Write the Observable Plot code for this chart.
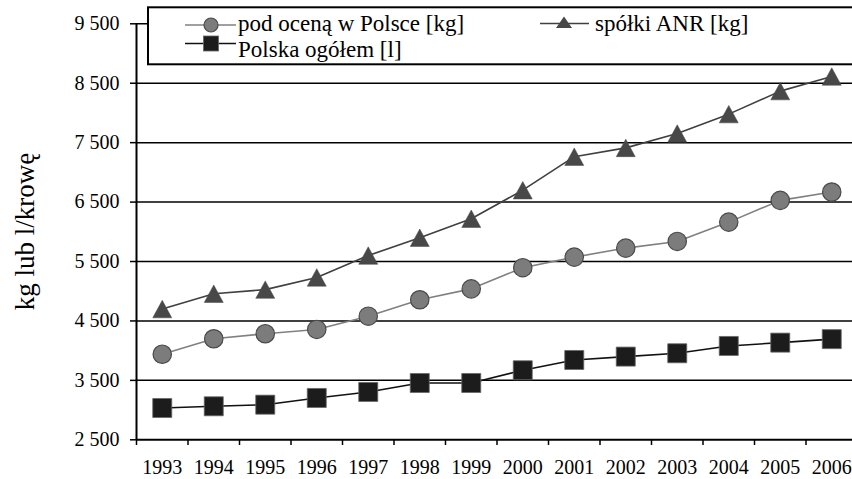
<!DOCTYPE html>
<html><head><meta charset="utf-8">
<script src="https://cdn.jsdelivr.net/npm/d3@7"></script>
<script src="https://cdn.jsdelivr.net/npm/@observablehq/plot@0.6"></script>
<style>
html,body{margin:0;padding:0;background:#fff;overflow:hidden;}
#wrap{position:relative;width:852px;height:479px;overflow:hidden;}
#wrap svg, #wrap svg text{font-family:'Liberation Serif','Times New Roman',serif !important;}
#legend{position:absolute;left:0;top:0;pointer-events:none;}
</style></head><body><div id="wrap"></div>
<script>
const years = [1993,1994,1995,1996,1997,1998,1999,2000,2001,2002,2003,2004,2005,2006];
const podOcena = [3940,4200,4285,4357,4580,4857,5040,5396,5574,5726,5838,6163,6529,6669];
const spolkiANR = [4700,4958,5027,5232,5600,5900,6220,6700,7264,7412,7653,7980,8367,8613];
const polskaOgolem = [3035,3064,3091,3204,3305,3456,3456,3670,3843,3900,3956,4079,4135,4194];
const seriesNames = ["pod oceną w Polsce [kg]", "spółki ANR [kg]", "Polska ogółem [l]"];
const yTicks = [2500,3500,4500,5500,6500,7500,8500,9500];
const yLabel = "kg lub l/krowę";

const FONT = "'Liberation Serif', 'Times New Roman', serif";
const fmt = d => d3.format(",")(d).replace(/,/g, " ");
const boundaries = years.map(y => y - 0.5).concat([years[years.length-1] + 0.5]);

const rows = s => years.map((y, i) => ({year: y, value: s[i]}));
const dPod = rows(podOcena), dAnr = rows(spolkiANR), dPol = rows(polskaOgolem);

const triangle = {draw(ctx, size){ const r = Math.sqrt(size/Math.PI); const h = 1.84*r;
  ctx.moveTo(0, -h/2); ctx.lineTo(r, h/2); ctx.lineTo(-r, h/2); ctx.closePath(); }};
const square = {draw(ctx, size){ const r = Math.sqrt(size/Math.PI);
  ctx.moveTo(-r,-r); ctx.lineTo(r,-r); ctx.lineTo(r,r); ctx.lineTo(-r,r); ctx.closePath(); }};

const chart = Plot.plot({
  width: 852, height: 479,
  marginLeft: 136, marginRight: 0, marginTop: 23, marginBottom: 40,
  style: {fontFamily: FONT, background: "white", overflow: "hidden", color: "black"},
  x: {type: "linear", domain: [1992.5, 2006.5], range: [136, 857]},
  y: {domain: [2500, 9500], range: [439.3, 23.3]},
  marks: [
    Plot.ruleY(yTicks.slice(1), {stroke: "black", strokeWidth: 1.5}),
    Plot.axisY({ticks: yTicks, tickSize: 6, tickPadding: 11, tickFormat: fmt, fontSize: 20, label: null, strokeWidth: 1.5}),
    Plot.axisX({ticks: years, tickSize: 0, tickPadding: 20, tickFormat: d => String(d), fontSize: 20, label: null}),
    Plot.axisX({ticks: boundaries, tickSize: 6, tickFormat: () => "", label: null, strokeWidth: 1.5}),
    Plot.ruleX([1992.5], {stroke: "black", strokeWidth: 2}),
    Plot.ruleY([2500], {stroke: "black", strokeWidth: 2}),
    Plot.text([yLabel], {frameAnchor: "left", rotate: -90, dx: -111, fontSize: 27, text: d => d, textAnchor: "middle", lineAnchor: "middle", fill: "black"}),
    Plot.line(dPod, {x: "year", y: "value", stroke: "#808080", strokeWidth: 1.6}),
    Plot.line(dAnr, {x: "year", y: "value", stroke: "#404040", strokeWidth: 1.6}),
    Plot.line(dPol, {x: "year", y: "value", stroke: "#111", strokeWidth: 1.6}),
    Plot.dot(dPod, {x: "year", y: "value", r: 9.2, fill: "#7c7c7c", stroke: "#4a4a4a", strokeWidth: 1.2}),
    Plot.dot(dAnr, {x: "year", y: "value", r: 9.5, symbol: triangle, fill: "#484848", stroke: "#484848", strokeWidth: 0.5}),
    Plot.dot(dPol, {x: "year", y: "value", r: 9.5, symbol: square, fill: "#1c1c1c", stroke: "#666", strokeWidth: 0.8})
  ]
});
const wrap = document.getElementById("wrap");
wrap.appendChild(chart);

// Legend overlay
const lg = d3.select(wrap).append("svg").attr("id", "legend").attr("width", 852).attr("height", 479)
  .attr("font-family", FONT);
lg.append("rect").attr("x", 148).attr("y", 7.3).attr("width", 720).attr("height", 57)
  .attr("fill", "white").attr("stroke", "black").attr("stroke-width", 2);
// entry 1: circle
lg.append("line").attr("x1", 185).attr("x2", 236).attr("y1", 25).attr("y2", 25).attr("stroke", "#808080").attr("stroke-width", 1.6);
lg.append("circle").attr("cx", 211).attr("cy", 25).attr("r", 7).attr("fill", "#7c7c7c").attr("stroke", "#4a4a4a").attr("stroke-width", 1.2);
lg.append("text").attr("x", 238).attr("y", 31).attr("font-size", 23).attr("font-family", FONT).text(seriesNames[0]);
// entry 2: square
lg.append("line").attr("x1", 185).attr("x2", 236).attr("y1", 43.5).attr("y2", 43.5).attr("stroke", "#111").attr("stroke-width", 1.6);
lg.append("rect").attr("x", 203.5).attr("y", 36).attr("width", 15).attr("height", 15).attr("fill", "#1c1c1c").attr("stroke", "#666").attr("stroke-width", 0.8);
lg.append("text").attr("x", 238).attr("y", 56.5).attr("font-size", 23).attr("font-family", FONT).text(seriesNames[2]);
// entry 3: triangle
lg.append("line").attr("x1", 540).attr("x2", 589).attr("y1", 23.5).attr("y2", 23.5).attr("stroke", "#404040").attr("stroke-width", 1.6);
lg.append("path").attr("d", "M564,16.5L572,28L556,28Z").attr("fill", "#484848");
lg.append("text").attr("x", 595).attr("y", 31).attr("font-size", 23).attr("font-family", FONT).text(seriesNames[1]);
</script></body></html>
